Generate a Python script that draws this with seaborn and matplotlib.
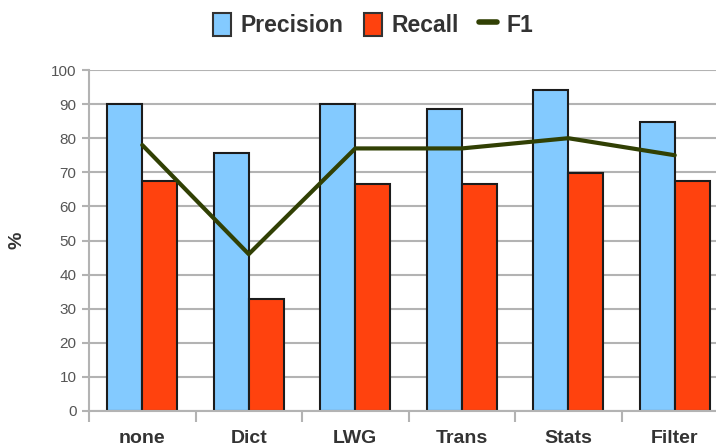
import matplotlib
matplotlib.use("Agg")
import matplotlib.pyplot as plt
import seaborn as sns
import pandas as pd
import numpy as np
from matplotlib.patches import Patch
from matplotlib.lines import Line2D

categories = ["none", "Dict", "LWG", "Trans", "Stats", "Filter"]
precision = [90, 75.7, 90, 88.7, 94, 84.7]
recall = [67.5, 32.7, 66.7, 66.7, 69.8, 67.5]
f1 = [78, 46, 77, 77, 80, 75]

sns.set_theme(style="white")
plt.rcParams['font.family'] = ['Liberation Sans', 'DejaVu Sans']

df = pd.DataFrame({
    "cat": categories * 2,
    "value": precision + recall,
    "series": ["Precision"] * len(categories) + ["Recall"] * len(categories),
})

c_prec = "#83caff"
c_rec = "#ff420e"
c_f1 = "#314004"

fig = plt.figure(figsize=(7.16, 4.47), dpi=100)
ax = fig.add_axes([89/716, 1 - 411/447, 639/716, (411 - 70)/447])

sns.barplot(data=df, x="cat", y="value", hue="series", order=categories,
            palette={"Precision": c_prec, "Recall": c_rec}, width=0.66,
            edgecolor="#1c1c1c", linewidth=1.5, saturation=1, ax=ax, legend=False)
sns.lineplot(x=np.arange(len(categories)), y=f1, color=c_f1, linewidth=3.0, ax=ax)

ax.set_xlim(-0.5, len(categories) - 0.5)
ax.set_ylim(0, 100)
ax.set_yticks(np.arange(0, 101, 10))
ax.yaxis.grid(True, color="#b3b3b3", linewidth=1.5)
ax.set_axisbelow(True)
for s in ["top", "right"]:
    ax.spines[s].set_visible(False)
for s in ["left", "bottom"]:
    ax.spines[s].set_color("#b3b3b3")
    ax.spines[s].set_linewidth(1.5)

ax.tick_params(axis="y", which="major", length=5, width=1.5, color="#b3b3b3",
               labelsize=11, labelcolor="#555555", pad=4, direction="out", left=True)
ax.set_xticks(np.arange(len(categories)))
ax.set_xticklabels(categories, fontsize=14, fontweight="bold", color="#333333")
ax.tick_params(axis="x", which="major", length=0, pad=14)
ax.set_xticks(np.arange(len(categories) + 1) - 0.5, minor=True)
ax.tick_params(axis="x", which="minor", length=8, width=1.5, color="#b3b3b3", direction="out", bottom=True)

ax.set_xlabel("")
ax.set_ylabel("%", fontsize=14, fontweight="bold", color="#333333", labelpad=18)

handles = [
    Patch(facecolor=c_prec, edgecolor="#333333", linewidth=1.5, label="Precision"),
    Patch(facecolor=c_rec, edgecolor="#333333", linewidth=1.5, label="Recall"),
    Line2D([0], [0], color=c_f1, linewidth=4, label="F1"),
]
leg = fig.legend(handles=handles, loc="center", bbox_to_anchor=(373/716, 1 - 25/447),
                 ncol=3, frameon=False, fontsize=16.5, handlelength=0.8, handleheight=1.2,
                 handletextpad=0.4, columnspacing=0.9)
for t in leg.get_texts():
    t.set_fontweight("bold")
    t.set_color("#333333")

fig.savefig("out.png", dpi=100)
